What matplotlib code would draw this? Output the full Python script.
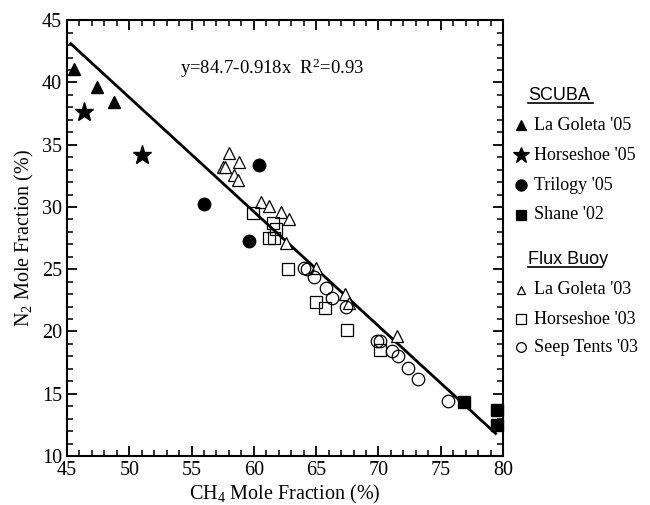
import matplotlib
matplotlib.use("Agg")
import matplotlib.pyplot as plt
from matplotlib.lines import Line2D
from matplotlib.ticker import MultipleLocator
import numpy as np

plt.rcParams['font.family'] = ['Liberation Serif', 'DejaVu Serif']
plt.rcParams['mathtext.fontset'] = 'custom'
plt.rcParams['mathtext.rm'] = 'Liberation Serif'
plt.rcParams['mathtext.it'] = 'Liberation Serif:italic'
plt.rcParams['mathtext.default'] = 'regular'

# SCUBA
goleta05_x = [45.6, 47.4, 48.8]
goleta05_y = [41.1, 39.6, 38.4]
horse05_x = [46.4, 51.0]
horse05_y = [37.6, 34.2]
trilogy05_x = [60.4, 56.0, 59.6]
trilogy05_y = [33.4, 30.2, 27.3]
shane02_x = [76.9, 79.5, 79.5]
shane02_y = [14.3, 13.7, 12.5]

# Flux buoy
goleta03_x = [58.0, 58.8, 57.5, 57.7, 58.4, 58.7, 60.6, 61.2, 62.2, 62.8,
              62.6, 65.0, 67.3, 67.6, 71.5]
goleta03_y = [34.3, 33.6, 33.2, 33.2, 32.6, 32.2, 30.4, 30.1, 29.6, 29.0,
              27.1, 25.1, 23.0, 22.3, 19.6]
horse03_x = [59.95, 61.5, 61.8, 61.2, 61.6, 62.7, 65.0, 65.7, 67.5, 70.1]
horse03_y = [29.5, 28.7, 28.2, 27.5, 27.5, 25.0, 22.4, 21.9, 20.1, 18.5]
seep03_x = [64.0, 64.3, 64.8, 65.8, 66.3, 67.4, 69.9, 70.1, 71.1, 71.6,
            72.4, 73.2, 75.6]
seep03_y = [25.1, 25.0, 24.4, 23.5, 22.7, 22.0, 19.25, 19.25, 18.45, 18.0,
            17.1, 16.2, 14.4]

# regression y = 84.7 - 0.918x
fit_a, fit_b = 84.7, -0.918
fit_x = np.array([45.3, 79.4])

fig = plt.figure(figsize=(6.5, 5.05), dpi=100)
ax = fig.add_axes([0.103, 0.097, 0.671, 0.863])

ax.plot(fit_x, fit_a + fit_b * fit_x, color='black', lw=2, zorder=1)

ax.plot(goleta05_x, goleta05_y, '^', color='black', ms=9, ls='none')
ax.plot(horse05_x, horse05_y, '*', color='black', ms=14, ls='none')
ax.plot(trilogy05_x, trilogy05_y, 'o', color='black', ms=9, ls='none')
ax.plot(shane02_x, shane02_y, 's', color='black', ms=9, ls='none', clip_on=False)

ax.plot(goleta03_x, goleta03_y, '^', mfc='white', mec='black', mew=0.9, ms=9, ls='none')
ax.plot(horse03_x, horse03_y, 's', mfc='none', mec='black', mew=0.9, ms=9, ls='none')
ax.plot(seep03_x, seep03_y, 'o', mfc='none', mec='black', mew=0.9, ms=9, ls='none')

ax.text(61.5, 41.1, 'y=84.7-0.918x  R$^{2}$=0.93', fontsize=13.5,
        ha='center', va='center')

ax.set_xlim(45, 80)
ax.set_ylim(10, 45)
ax.xaxis.set_major_locator(MultipleLocator(5))
ax.xaxis.set_minor_locator(MultipleLocator(1))
ax.yaxis.set_major_locator(MultipleLocator(5))
ax.yaxis.set_minor_locator(MultipleLocator(1))
ax.tick_params(which='both', direction='in', top=True, right=True, labelsize=14.5)
ax.tick_params(which='major', length=7, width=1.3)
ax.tick_params(which='minor', length=4, width=1.1)
for s in ax.spines.values():
    s.set_linewidth(1.5)

ax.set_xlabel('CH$_4$ Mole Fraction (%)', fontsize=14.5, labelpad=2)
ax.set_ylabel('N$_2$ Mole Fraction (%)', fontsize=14.5, labelpad=4)

# legend drawn by hand to the right
W, H = 650.0, 505.0


def fx(px):
    return px / W


def fy(py):
    return 1 - py / H


def header(txt, px, py, px_end):
    fig.text(fx(px), fy(py), txt, family='Liberation Sans', fontsize=13,
             ha='left', va='center')
    fig.add_artist(Line2D([fx(px), fx(px_end)], [fy(py + 8), fy(py + 8)],
                          transform=fig.transFigure, color='black', lw=1.2))


def entry(label, marker, ms, filled, py):
    fig.add_artist(Line2D([fx(521)], [fy(py)], transform=fig.transFigure,
                          marker=marker, ms=ms, ls='none',
                          mfc='black' if filled else 'white', mec='black',
                          mew=0.9))
    fig.text(fx(534), fy(py), label, fontsize=13, ha='left', va='center')


header('SCUBA', 528, 95, 593)
entry("La Goleta '05", '^', 7, True, 125)
entry("Horseshoe '05", '*', 12, True, 155)
entry("Trilogy '05", 'o', 8, True, 185)
entry("Shane '02", 's', 7, True, 215)

header('Flux Buoy', 528, 259, 601)
entry("La Goleta '03", '^', 6, False, 290)
entry("Horseshoe '03", 's', 7, False, 319)
entry("Seep Tents '03", 'o', 7, False, 347)

fig.savefig('out.png', dpi=100)
